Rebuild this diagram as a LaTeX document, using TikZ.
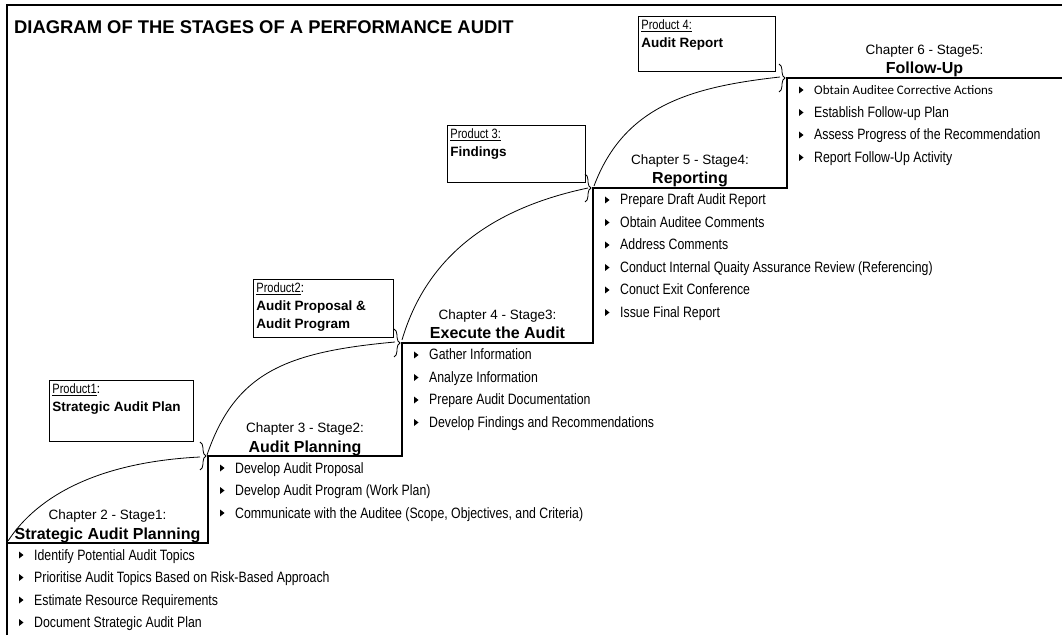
\documentclass[tikz,border=0pt]{standalone}
\usepackage{fontspec}
\setmainfont{Liberation Sans}
\newfontfamily\narrowfont[FakeStretch=0.82]{Liberation Sans}
\newfontfamily\calfont{Carlito}
\usepackage{tikz}
\usetikzlibrary{calc,shapes,positioning,decorations.pathreplacing}

\begin{document}
\begin{tikzpicture}[x=1pt,y=1pt]

        \tikzstyle{frame}=[line width=2.4pt, line join=miter]
        \tikzstyle{stair}=[line width=2.8pt, line join=miter]
        \tikzstyle{link}=[line width=0.8pt]
        \tikzstyle{brc}=[line width=0.8pt, decorate, decoration={brace, amplitude=6pt}]
        \tikzstyle{prod}=[draw, line width=0.8pt, inner sep=3pt, anchor=north west, font=\fontsize{13.5}{18}\selectfont]
        \tikzstyle{chap}=[inner sep=0pt, font=\fontsize{13.5}{16}\selectfont]
        \tikzstyle{stage}=[inner sep=0pt, anchor=base, font=\bfseries\fontsize{16}{19}\selectfont]
        \tikzstyle{item}=[inner sep=0pt, anchor=base west, font=\narrowfont\fontsize{15}{18}\selectfont]

        \useasboundingbox (0,0) rectangle (1062,635);

        \node[inner sep=0pt, anchor=base west, font=\bfseries\fontsize{18.4}{22}\selectfont] (title) at (14,601.5) {DIAGRAM OF THE STAGES OF A PERFORMANCE AUDIT};

        \coordinate (s1) at (7,92);
        \coordinate (s2) at (208,179);
        \coordinate (s3) at (402,292);
        \coordinate (s4) at (593,447);
        \coordinate (s5) at (787,557);
        \coordinate (s6) at (1062,557);

        \draw[frame] (7,0) -- (7,630) -- (1062,630);
        \draw[stair] (s1) -| (s2) -| (s3) -| (s4) -| (s5) -- (s6);

        \node[stage] (t1) at (107.5,96) {Strategic Audit Planning};
        \node[chap, above=4.5pt of t1] (h1) {Chapter 2 - Stage1:};
        \node[stage] (t2) at (305,183) {Audit Planning};
        \node[chap, above=4.5pt of t2] (h2) {Chapter 3 - Stage2:};
        \node[stage] (t3) at (497.5,296) {Execute the Audit};
        \node[chap, above=4.5pt of t3] (h3) {Chapter 4 - Stage3:};
        \node[stage] (t4) at (690,451) {Reporting};
        \node[chap, above=4.5pt of t4] (h4) {Chapter 5 - Stage4:};
        \node[stage] (t5) at (924.5,561) {Follow-Up};
        \node[chap, above=4.5pt of t5] (h5) {Chapter 6 - Stage5:};

        \node[prod] (p1) at (49,255) {\parbox[t][55pt][t]{138pt}{{\narrowfont\underline{Product1}}:\\\textbf{Strategic Audit Plan}}};
        \node[prod] (p2) at (253,356) {\parbox[t][52pt][t]{134pt}{{\narrowfont\underline{Product2}}:\\\textbf{Audit Proposal \&}\\\textbf{Audit Program}}};
        \node[prod] (p3) at (447,510) {\parbox[t][51pt][t]{132pt}{{\narrowfont\underline{Product 3:}}\\\textbf{Findings}}};
        \node[prod] (p4) at (638,619) {\parbox[t][49pt][t]{131pt}{{\narrowfont\underline{Product 4:}}\\\textbf{Audit Report}}};

        \draw[brc] ($(s2)+(-8,14)$) -- ($(s2)+(-8,-14)$);
        \draw[brc] ($(s3)+(-8,14)$) -- ($(s3)+(-8,-14)$);
        \draw[brc] ($(s4)+(-8,14)$) -- ($(s4)+(-8,-14)$);
        \draw[brc] ($(s5)+(-8,14)$) -- ($(s5)+(-8,-14)$);

        \draw[link] ($(s1)+(1,2)$) .. controls +(30,46) and +(-100,-5) .. ($(s2)+(-8,-1)$);
        \draw[link] ($(s2)+(-1,1)$) .. controls +(28,82) and +(-110,-10) .. ($(s3)+(-7,1)$);
        \draw[link] ($(s3)+(0,3)$) .. controls +(25,85) and +(-95,-20) .. ($(s4)+(-5,0)$);
        \draw[link] ($(s4)+(1,2)$) .. controls +(30,80) and +(-90,-10) .. ($(s5)+(-7,1)$);

        \foreach \txt [count=\i] in {Identify Potential Audit Topics, Prioritise Audit Topics Based on Risk-Based Approach, Estimate Resource Requirements, Document Strategic Audit Plan}{
          \fill ($(s1)+(12,14-22.5*\i)$) -- ++(0,-7) -- ++(4.5,3.5) -- cycle;
          \node[item] (a\i) at ($(s1)+(27,5.5-22.5*\i)$) {\txt};
        }
        \foreach \txt [count=\i] in {Develop Audit Proposal, Develop Audit Program (Work Plan), {Communicate with the Auditee (Scope, Objectives, and Criteria)}}{
          \fill ($(s2)+(12,14-22.5*\i)$) -- ++(0,-7) -- ++(4.5,3.5) -- cycle;
          \node[item] (b\i) at ($(s2)+(27,5.5-22.5*\i)$) {\txt};
        }
        \foreach \txt [count=\i] in {Gather Information, Analyze Information, Prepare Audit Documentation, Develop Findings and Recommendations}{
          \fill ($(s3)+(12,14-22.5*\i)$) -- ++(0,-7) -- ++(4.5,3.5) -- cycle;
          \node[item] (c\i) at ($(s3)+(27,5.5-22.5*\i)$) {\txt};
        }
        \foreach \txt [count=\i] in {Prepare Draft Audit Report, Obtain Auditee Comments, Address Comments, Conduct Internal Quaity Assurance Review (Referencing), Conuct Exit Conference, Issue Final Report}{
          \fill ($(s4)+(12,14-22.5*\i)$) -- ++(0,-7) -- ++(4.5,3.5) -- cycle;
          \node[item] (d\i) at ($(s4)+(27,5.5-22.5*\i)$) {\txt};
        }
        \foreach \txt [count=\i] in {{\calfont\fontsize{13}{16}\selectfont Obtain Auditee Corrective Actions}, Establish Follow-up Plan, Assess Progress of the Recommendation, Report Follow-Up Activity}{
          \fill ($(s5)+(12,14-22.5*\i)$) -- ++(0,-7) -- ++(4.5,3.5) -- cycle;
          \node[item] (e\i) at ($(s5)+(27,5.5-22.5*\i)$) {\txt};
        }

\end{tikzpicture}
\end{document}
